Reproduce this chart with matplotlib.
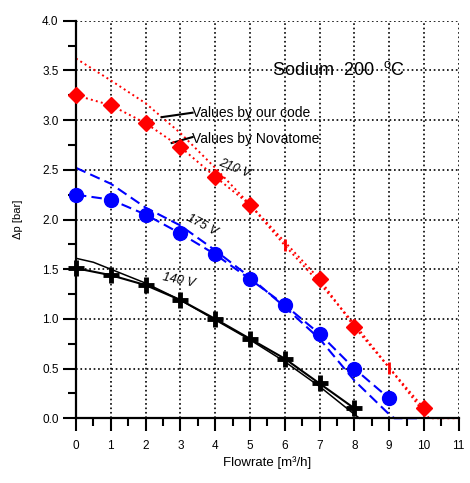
import matplotlib
matplotlib.use("Agg")
import matplotlib.pyplot as plt
from matplotlib.ticker import MultipleLocator

plt.rcParams['font.family'] = ['Liberation Sans', 'DejaVu Sans']
plt.rcParams['mathtext.fontset'] = 'custom'
plt.rcParams['mathtext.rm'] = 'Liberation Sans'

# Novatome values (markers)
x_red = [0, 1, 2, 3, 4, 5, 7, 8, 10]
y_red = [3.25, 3.15, 2.97, 2.73, 2.43, 2.15, 1.40, 0.92, 0.10]
x_blue = [0, 1, 2, 3, 4, 5, 6, 7, 8, 9]
y_blue = [2.25, 2.20, 2.05, 1.86, 1.65, 1.40, 1.14, 0.85, 0.50, 0.20]
x_black = [0, 1, 2, 3, 4, 5, 6, 7, 8]
y_black = [1.51, 1.44, 1.34, 1.19, 1.00, 0.80, 0.60, 0.35, 0.10]

# values by our code (curves)
xc_red = [0, 1, 2, 3, 4, 5, 6, 7, 8, 9, 10, 10.15, 11]
yc_red = [3.62, 3.40, 3.17, 2.87, 2.52, 2.15, 1.74, 1.36, 0.95, 0.51, 0.06, 0, 0]
xc_blue = [0, 1, 2, 3, 4, 5, 6, 7, 8, 9, 9.15, 9.8]
yc_blue = [2.52, 2.36, 2.12, 1.94, 1.69, 1.42, 1.12, 0.80, 0.38, 0.04, 0, 0]
xc_black = [0, 0.5, 1, 2, 3, 4, 5, 6, 7, 8, 8.15]
yc_black = [1.61, 1.57, 1.50, 1.36, 1.19, 0.99, 0.79, 0.57, 0.32, 0.04, 0]

# tick marks on our-code red curve
x_red_tick = [6, 9]
y_red_tick = [1.74, 0.51]

fig = plt.figure(figsize=(4.70, 4.83), dpi=100)
ax = fig.add_axes([0.1617, 0.134, 0.8143, 0.823])

ax.plot(xc_red, yc_red, color='red', ls=':', lw=1.4, clip_on=False)
ax.plot(xc_blue, yc_blue, color='blue', ls='--', lw=1.5, dashes=(5, 2.5), clip_on=False)
ax.plot(xc_black, yc_black, color='black', ls='-', lw=1.1, clip_on=False)

ax.plot(x_red, y_red, color='red', ls=':', lw=1.4, marker='D', ms=8, clip_on=False, zorder=4)
ax.plot(x_red_tick, y_red_tick, ls='none', color='red', marker='|', ms=9, mew=2, zorder=4)
ax.plot(x_blue, y_blue, color='blue', ls='--', lw=1.5, dashes=(5, 2.5), marker='o', ms=10,
        clip_on=False, zorder=4)
ax.plot(x_black, y_black, color='black', ls='-', lw=1.5, marker='+', ms=11, mew=3.5,
        clip_on=False, zorder=4)

ax.set_xlim(0, 11)
ax.set_ylim(0, 4)
ax.xaxis.set_major_locator(MultipleLocator(1))
ax.xaxis.set_minor_locator(MultipleLocator(0.5))
ax.yaxis.set_major_locator(MultipleLocator(0.5))
ax.yaxis.set_minor_locator(MultipleLocator(0.25))
ax.yaxis.set_major_formatter(matplotlib.ticker.FormatStrFormatter('%.1f'))
ax.tick_params(which='major', direction='out', length=9.5, width=1.5, labelsize=8.5, pad=3)
ax.tick_params(axis='x', which='major', pad=6)
ax.tick_params(which='minor', direction='out', length=5.5, width=1.5)
ax.spines['top'].set_visible(False)
ax.spines['right'].set_visible(False)
ax.spines['left'].set_linewidth(1.6)
ax.spines['bottom'].set_linewidth(1.6)
ax.grid(True, which='major', color='black', ls=':', lw=1.2)
ax.set_axisbelow(True)

ax.set_xlabel('Flowrate [m³/h]', fontsize=9.5, labelpad=3)
ax.set_ylabel('Δp [bar]', fontsize=8, labelpad=14)

ax.text(5.63, 3.45, 'Sodium  200  $^{\\mathrm{o}}$C', fontsize=13, va='baseline')
ax.text(3.33, 3.034, 'Values by our code', fontsize=10, va='baseline')
ax.text(3.33, 2.77, 'Values by Novatome', fontsize=10, va='baseline')
ax.plot([3.35, 2.46], [3.075, 3.03], color='black', lw=1.5)
ax.plot([3.35, 2.75], [2.83, 2.77], color='black', lw=1.5)

ax.text(4.54, 2.51, '210 V', fontsize=9, style='italic', rotation=-22, ha='center', va='center')
ax.text(3.61, 1.945, '175 V', fontsize=9, style='italic', rotation=-28, ha='center', va='center')
ax.text(2.94, 1.39, '140 V', fontsize=9, style='italic', rotation=-12, ha='center', va='center')

fig.savefig('out.png', dpi=100)
